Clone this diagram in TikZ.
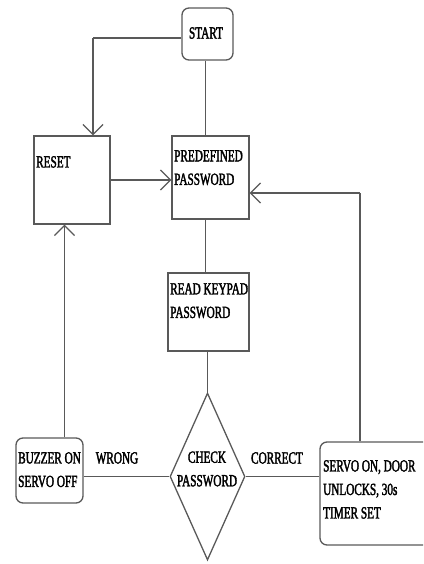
\documentclass[tikz,border=0pt]{standalone}
\usepackage{fontspec}
\setmainfont{Liberation Serif}[FakeStretch=0.66, FakeBold=2]
\usepackage{tikz}
\usetikzlibrary{arrows.meta}
\usetikzlibrary{shapes.geometric}

\newcommand{\flowfont}{\fontsize{17}{23.5}\selectfont}

\tikzset{
    box/.style={draw=black!65, line width=1.3pt, inner sep=0pt},
    rbox/.style={box, rounded corners=7pt},
    lbl/.style={font=\flowfont, align=left, inner sep=0pt},
    link/.style={draw=black!65, line width=1.3pt},
    arr/.style={link, -{Straight Barb[length=10pt,width=20pt]}}
}

\begin{document}
\begin{tikzpicture}[x=1pt, y=-1pt]  % one unit is one pixel of the reference
    \clip (0,0) rectangle (423,564);

    % Boxes
    \node[rbox, minimum width=51, minimum height=52] (start) at (207.5,34) {};
    \node[box, minimum width=76, minimum height=88] (reset) at (72,180) {};
    \node[box, minimum width=77, minimum height=83] (pre) at (210.5,177.5) {};
    \node[box, minimum width=81, minimum height=78] (read) at (208.5,312) {};
    \node[box, diamond, minimum width=75, minimum height=167, aspect=0.45] (chk) at (207.5,476.5) {};
    \node[rbox, minimum width=67, minimum height=65] (buz) at (49.5,470.5) {};
    \node[rbox, minimum width=110, minimum height=103] (srv) at (375,493.5) {};

    % Texts in the boxes
    \node[lbl] (startlbl) at (206,33) {START};
    \node[lbl, anchor=north west] (resetlbl) at (36,156) {RESET};
    \node[lbl, anchor=north west] (prelbl) at (174,150) {PREDEFINED\\PASSWORD};
    \node[lbl, anchor=north west] (readlbl) at (170,283) {READ KEYPAD\\PASSWORD};
    \node[lbl, align=center] (chklbl) at (207,469) {CHECK\\PASSWORD};
    \node[lbl, anchor=north west] (buzlbl) at (18,452) {BUZZER ON\\SERVO OFF};
    \node[lbl, anchor=north west] (srvlbl) at (323,460) {SERVO ON, DOOR\\UNLOCKS, 30s\\TIMER SET};

    % Branch labels
    \node[lbl] (wrong) at (117,458) {WRONG};
    \node[lbl] (correct) at (277,458) {CORRECT};

    % Connectors
    \coordinate (c1) at (93,38);
    \draw[link] ([yshift=-4]start.west) -- (c1);
    \draw[arr] (c1) -- (c1 |- reset.north);
    \draw[link] ([xshift=-2]start.south) -- ([xshift=-2]start.south |- pre.north);
    \draw[arr] (reset.east) -- (reset.east -| pre.west);
    \draw[link] ([xshift=-5]pre.south) -- ([xshift=-5]pre.south |- read.north);
    \draw[link] (chk.north |- read.south) -- (chk.north);
    \draw[link] (chk.west -| buz.east) -- (chk.west);
    \draw[link] (chk.east) -- (chk.east -| srv.west);
    \draw[arr] ([xshift=15]buz.north) -- ([xshift=15]buz.north |- reset.south);

    % Back to the password
    \coordinate (c2) at (360,193);
    \draw[link] (c2 |- srv.north) -- (c2);
    \draw[arr] (c2) -- (c2 -| pre.east);
\end{tikzpicture}
\end{document}
